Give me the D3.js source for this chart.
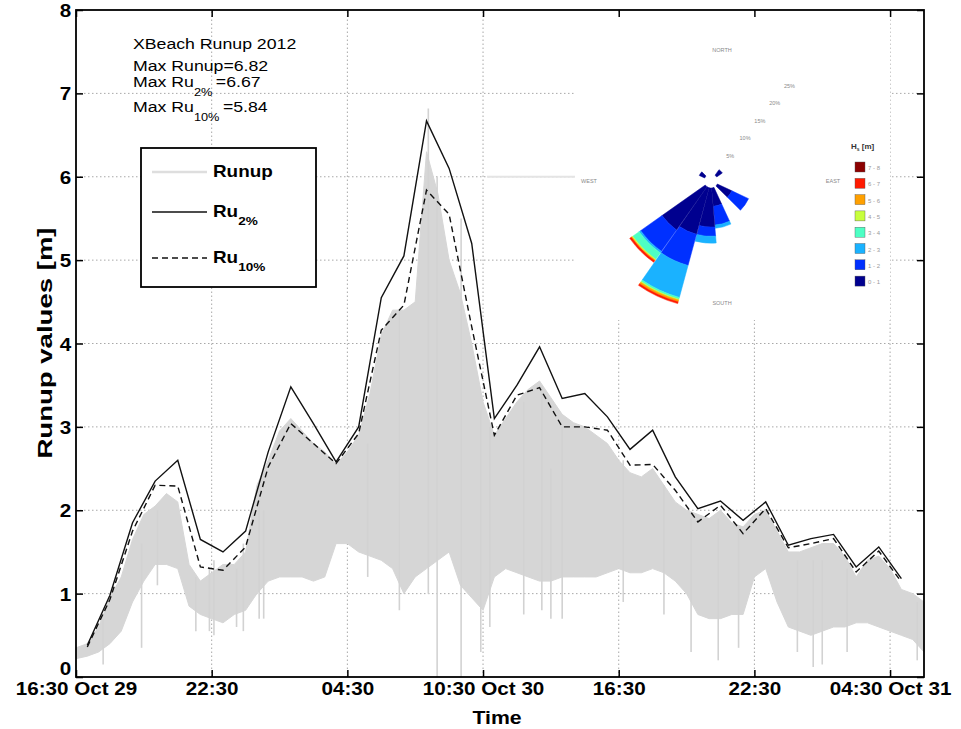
<!DOCTYPE html>
<html>
<head>
<meta charset="utf-8">
<script src="https://cdn.jsdelivr.net/npm/d3@7"></script>
<style>
  body { margin: 0; background: #fff; }
  text { font-family: "Liberation Sans", Arial, Helvetica, sans-serif; }
</style>
</head>
<body>
<svg id="chart" width="961" height="729"></svg>
<script>
// time axis
var startTime = "2012-10-29T16:30Z",
    endTime = "2012-10-31T06:00Z";
var tickTimes = ["2012-10-29T16:30Z", "2012-10-29T22:30Z", "2012-10-30T04:30Z", "2012-10-30T10:30Z",
                 "2012-10-30T16:30Z", "2012-10-30T22:30Z", "2012-10-31T04:30Z"];
var tickLabels = ["16:30 Oct 29", "22:30", "04:30", "10:30 Oct 30", "16:30", "22:30", "04:30 Oct 31"];
var yTicks = [0, 1, 2, 3, 4, 5, 6, 7, 8];

// Ru2% and Ru10%, hourly from 17:00 Oct 29
var ruStart = "2012-10-29T17:00Z";
var ru2 = [0.38, 0.98, 1.85, 2.35, 2.6, 1.65, 1.5, 1.75, 2.7, 3.48, 3.04, 2.58, 3.0, 4.55, 5.05, 6.67, 6.1, 5.2, 3.1,
           3.5, 3.96, 3.34, 3.4, 3.12, 2.73, 2.96, 2.4, 2.02, 2.11, 1.88, 2.1, 1.58, 1.66, 1.71, 1.32, 1.56, 1.18];
var ru10 = [0.36, 0.93, 1.75, 2.3, 2.29, 1.32, 1.28, 1.56, 2.52, 3.04, 2.8, 2.56, 2.92, 4.16, 4.46, 5.84, 5.55, 4.2, 2.9,
            3.38, 3.47, 3.0, 3.0, 2.96, 2.54, 2.55, 2.24, 1.86, 2.06, 1.72, 2.02, 1.55, 1.6, 1.66, 1.26, 1.51, 1.14];

// runup signal envelope, half-hourly from 16:30 Oct 29
var runupHi = [0.35, 0.4, 0.6, 0.95, 1.2, 1.65, 1.95, 2.05, 2.2, 2.1, 1.35, 1.15, 1.25, 1.35, 1.35, 1.5,
               2.3, 2.6, 2.95, 3.1, 2.95, 2.8, 2.7, 2.55, 2.7, 2.9, 3.4, 4.1, 4.4, 4.4, 4.5, 6.3,
               5.8, 5.0, 4.6, 4.0, 3.3, 2.9, 3.1, 3.3, 3.45, 3.55, 3.35, 3.15, 3.05, 3.0, 2.9, 2.8,
               2.6, 2.45, 2.4, 2.5, 2.3, 2.1, 2.0, 1.95, 1.9, 2.0, 1.85, 1.8, 1.95, 2.0, 1.75, 1.5,
               1.5, 1.55, 1.6, 1.6, 1.45, 1.2, 1.4, 1.45, 1.3, 1.05, 1.0, 0.9];
var runupLo = [0.22, 0.25, 0.3, 0.4, 0.55, 0.9, 1.15, 1.35, 1.35, 1.3, 0.85, 0.75, 0.7, 0.65, 0.75, 0.8,
               1.0, 1.15, 1.2, 1.2, 1.2, 1.15, 1.2, 1.6, 1.6, 1.5, 1.45, 1.4, 1.3, 1.0, 1.2, 1.3,
               1.4, 1.5, 1.1, 0.95, 0.8, 1.2, 1.3, 1.25, 1.2, 1.15, 1.15, 1.2, 1.2, 1.2, 1.2, 1.25,
               1.3, 1.25, 1.25, 1.3, 1.25, 1.15, 1.0, 0.75, 0.7, 0.7, 0.75, 0.75, 1.2, 1.3, 0.9, 0.6,
               0.55, 0.5, 0.55, 0.6, 0.6, 0.65, 0.65, 0.6, 0.55, 0.5, 0.45, 0.3];
// single runup excursions: hours after 16:30 Oct 29, low and high value
var spikeHours = [1.2, 2.9, 3.6, 5.3, 5.9, 6.1, 7.1, 7.4, 8.1, 8.3, 12.9, 14.3, 15.58, 15.97, 17.03, 17.9,
                  18.3, 19.8, 20.6, 21.0, 21.5, 24.2, 26.0, 27.2, 28.4, 29.3, 31.9, 32.6, 33.0, 34.1, 37.2];
var spikeLo    = [0.15, 0.35, 1.1, 0.55, 0.55, 0.5, 0.6, 0.55, 0.7, 0.7, 1.2, 0.8, 1.0, 0.0, 0.0, 0.3,
                  0.6, 0.75, 0.8, 0.7, 0.7, 0.9, 0.75, 0.3, 0.2, 0.35, 0.3, 0.12, 0.15, 0.3, 0.2];
var spikeHi    = [0.7, 1.6, 2.0, 1.2, 1.3, 1.4, 1.3, 1.6, 2.3, 2.0, 2.8, 4.4, 6.82, 6.0, 5.5, 3.2,
                  3.0, 3.3, 3.5, 2.5, 3.0, 2.6, 2.3, 1.9, 1.9, 1.8, 1.4, 1.4, 1.4, 1.3, 0.9];

// wave rose (bearing of petal, frequency % per Hs class)
var roseDirs = [305, 45, 125, 165, 185, 205, 225];
var hsBins = ["0 - 1", "1 - 2", "2 - 3", "3 - 4", "4 - 5", "5 - 6", "6 - 7", "7 - 8"];
var hsColors = ["#00008f", "#0030ff", "#1ab2ff", "#4dffc4", "#c8ff3c", "#ffa000", "#ff1a00", "#8c0000"];
var roseFreq = [
  [1.3, 0, 0, 0, 0, 0, 0, 0],
  [1.5, 0, 0, 0, 0, 0, 0, 0],
  [3.5, 4.0, 0, 0, 0, 0, 0, 0],
  [4.0, 4.1, 0.7, 0, 0, 0, 0, 0],
  [8.5, 2.0, 1.5, 0, 0, 0, 0, 0],
  [10.5, 7.0, 7.2, 0.4, 0.2, 0.4, 0.4, 0],
  [11.5, 5.7, 0.4, 1.7, 0.2, 0.2, 0.4, 0]
];
var roseRings = [5, 10, 15, 20, 25];
var compass = ["NORTH", "EAST", "SOUTH", "WEST"];

var svg = d3.select("#chart"),
    sx = 1.18; // the figure text is a bit wide

var parse = d3.utcParse("%Y-%m-%dT%H:%MZ");
var t0 = parse(startTime);

var x = d3.scaleUtc()
  .domain([t0, parse(endTime)])
  .range([76, 924]);
var y = d3.scaleLinear()
  .domain([0, 8])
  .range([677, 10]);

function hoursAfter(base, h) { return new Date(base.getTime() + h * 3600e3); }

/* grid */
svg.append("g").selectAll("line")
  .data(tickTimes.slice(1))
  .enter().append("line")
    .attr("x1", function(d) { return x(parse(d)); })
    .attr("x2", function(d) { return x(parse(d)); })
    .attr("y1", y(0)).attr("y2", y(8))
    .attr("stroke", "#a8a8a8").attr("stroke-dasharray", "1.5,2.5");
svg.append("g").selectAll("line")
  .data(yTicks.slice(1, -1))
  .enter().append("line")
    .attr("y1", function(d) { return y(d); })
    .attr("y2", function(d) { return y(d); })
    .attr("x1", x.range()[0]).attr("x2", x.range()[1])
    .attr("stroke", "#a8a8a8").attr("stroke-dasharray", "1.5,2.5");

/* wave rose inset (white background over the grid) */
var rose = svg.append("g");
rose.append("rect")
  .attr("x", 575).attr("y", 12).attr("width", 315).attr("height", 308)
  .attr("fill", "#fff");
rose.append("line")
  .attr("x1", 487).attr("x2", 575).attr("y1", y(6)).attr("y2", y(6))
  .attr("stroke", "#e4e4e4").attr("stroke-width", 2);

var rc = [711, 181];
var rr = d3.scaleLinear().domain([0, 25]).range([7, 122]);
var arc = d3.arc();
var rg = rose.append("g").attr("transform", "translate(" + rc + ")");

roseDirs.forEach(function(dir, i) {
  var cum = 0;
  roseFreq[i].forEach(function(f, k) {
    if (!f) return;
    rg.append("path")
      .attr("d", arc({
        innerRadius: rr(cum), outerRadius: rr(cum + f),
        startAngle: (dir - 9.8) * Math.PI / 180, endAngle: (dir + 9.8) * Math.PI / 180
      }))
      .attr("fill", hsColors[k])
      .attr("stroke", hsColors[k]).attr("stroke-width", 0.5);
    cum += f;
  });
});

// ring labels along 40 degrees
rg.selectAll(".ringlab")
  .data(roseRings)
  .enter().append("text")
    .attr("x", function(d) { return rr(d) * Math.sin(40 * Math.PI / 180); })
    .attr("y", function(d) { return -rr(d) * Math.cos(40 * Math.PI / 180); })
    .attr("font-size", 5.5).attr("fill", "#8a8a8a")
    .attr("text-anchor", "middle")
    .text(function(d) { return d + "%"; });

rg.selectAll(".compass")
  .data(compass)
  .enter().append("text")
    .attr("x", function(d, i) { return Math.sin(i * Math.PI / 2) * rr(25) + (i % 2 ? 0 : 11); })
    .attr("y", function(d, i) { return -Math.cos(i * Math.PI / 2) * (i === 0 ? 131 : rr(25)) + 2; })
    .attr("font-size", 5.5).attr("fill", "#8a8a8a")
    .attr("text-anchor", "middle")
    .text(function(d) { return d; });

// Hs legend
var hsLeg = rose.append("g").attr("transform", "translate(855,162)");
hsLeg.append("text")
  .attr("x", -4).attr("y", -13)
  .attr("font-size", 8).attr("font-weight", "bold").attr("fill", "#333")
  .text("H").append("tspan").attr("font-size", 5).attr("dy", 2).text("s")
  .select(function() { return this.parentNode; })
  .append("tspan").attr("dy", -2).text(" [m]");
hsLeg.selectAll("g")
  .data(hsBins.slice().reverse())
  .enter().append("g")
    .attr("transform", function(d, i) { return "translate(0," + i * 16.3 + ")"; })
    .each(function(d, i) {
      var g = d3.select(this);
      g.append("rect").attr("width", 10).attr("height", 10)
        .attr("fill", hsColors[hsColors.length - 1 - i])
        .attr("stroke", "#555").attr("stroke-width", 0.4);
      g.append("text").attr("x", 13).attr("y", 8)
        .attr("font-size", 6).attr("fill", "#9a9a9a").text(d);
    });

/* runup signal */
var runupTimes = runupHi.map(function(d, i) { return hoursAfter(t0, i * 0.5); });
svg.append("path")
  .datum(runupHi)
  .attr("fill", "#d6d6d6")
  .attr("stroke", "#d6d6d6").attr("stroke-width", 1)
  .attr("d", d3.area()
    .x(function(d, i) { return x(runupTimes[i]); })
    .y0(function(d, i) { return y(runupLo[i]); })
    .y1(function(d) { return y(d); }));

svg.append("g").selectAll("line")
  .data(spikeHours)
  .enter().append("line")
    .attr("x1", function(d) { return x(hoursAfter(t0, d)); })
    .attr("x2", function(d) { return x(hoursAfter(t0, d)); })
    .attr("y1", function(d, i) { return y(spikeLo[i]); })
    .attr("y2", function(d, i) { return y(spikeHi[i]); })
    .attr("stroke", "#d2d2d2").attr("stroke-width", 1.6);

/* Ru2% and Ru10% */
var ruT0 = parse(ruStart);
var ruLine = d3.line()
  .x(function(d, i) { return x(hoursAfter(ruT0, i)); })
  .y(function(d) { return y(d); });

svg.append("path").datum(ru2)
  .attr("fill", "none").attr("stroke", "#111").attr("stroke-width", 1.4)
  .attr("d", ruLine);
svg.append("path").datum(ru10)
  .attr("fill", "none").attr("stroke", "#111").attr("stroke-width", 1.4)
  .attr("stroke-dasharray", "6,4")
  .attr("d", ruLine);

/* axes */
var xTickDates = tickTimes.map(parse);
svg.append("g")
  .attr("transform", "translate(0," + y(0) + ")")
  .call(d3.axisBottom(x).tickValues(xTickDates).tickSize(-7).tickPadding(6)
    .tickFormat(function(d, i) { return tickLabels[i]; }))
  .call(function(g) {
    g.select(".domain").remove();
    g.selectAll("line").attr("stroke-width", 1.5);
    g.selectAll("text").attr("font-size", 17.5).attr("font-weight", "bold").attr("fill", "#000")
      .attr("font-family", "Liberation Sans, Arial, sans-serif")
      .attr("transform", "scale(" + sx + ",1)");
  });
svg.append("g")
  .attr("transform", "translate(0," + y(8) + ")")
  .call(d3.axisTop(x).tickValues(xTickDates).tickSize(-7).tickFormat(""))
  .call(function(g) { g.select(".domain").remove(); g.selectAll("line").attr("stroke-width", 1.5); });

svg.append("g")
  .attr("transform", "translate(" + x.range()[0] + ",0)")
  .call(d3.axisLeft(y).tickValues(yTicks).tickSize(-7).tickPadding(4).tickFormat(d3.format("d")))
  .call(function(g) {
    g.select(".domain").remove();
    g.selectAll("line").attr("stroke-width", 1.5);
    g.selectAll("text").attr("font-size", 17.5).attr("font-weight", "bold").attr("fill", "#000")
      .attr("font-family", "Liberation Sans, Arial, sans-serif")
      .attr("transform", "scale(" + sx + ",1)")
      .attr("y", function(d) { return d === 0 ? -8 : 1; });
  });
svg.append("g")
  .attr("transform", "translate(" + x.range()[1] + ",0)")
  .call(d3.axisRight(y).tickValues(yTicks).tickSize(-7).tickFormat(""))
  .call(function(g) { g.select(".domain").remove(); g.selectAll("line").attr("stroke-width", 1.5); });

svg.append("rect")
  .attr("x", x.range()[0]).attr("y", y(8))
  .attr("width", x.range()[1] - x.range()[0]).attr("height", y(0) - y(8))
  .attr("fill", "none").attr("stroke", "#000").attr("stroke-width", 1.8);

svg.append("text")
  .attr("transform", "translate(497,724) scale(" + sx + ",1)")
  .attr("text-anchor", "middle").attr("font-size", 18).attr("font-weight", "bold")
  .text("Time");
svg.append("text")
  .attr("transform", "translate(52,343) rotate(-90) scale(1.45,1.05)")
  .attr("text-anchor", "middle").attr("font-size", 19).attr("font-weight", "bold")
  .text("Runup values [m]");

/* annotation */
function label(x0, y0, parts, size) {
  var t = svg.append("text")
    .attr("transform", "translate(" + x0 + "," + y0 + ") scale(" + sx + ",1)")
    .attr("font-size", size);
  parts.forEach(function(p) {
    t.append("tspan").attr("font-size", p.sub ? size * 0.72 : size)
      .attr("dy", p.dy || 0).attr("dx", p.dx || 0).text(p.s);
  });
  return t;
}
label(133, 49, [{s: "XBeach Runup 2012"}], 15);
label(133, 71, [{s: "Max Runup=6.82"}], 15);
label(133, 87, [{s: "Max Ru"}, {s: "2%", sub: 1, dy: 9}, {s: "=6.67", dy: -9, dx: 3}], 15);
label(133, 112, [{s: "Max Ru"}, {s: "10%", sub: 1, dy: 9}, {s: "=5.84", dy: -9, dx: 3}], 15);

/* legend */
var leg = svg.append("g");
leg.append("rect")
  .attr("x", 141).attr("y", 148).attr("width", 175).attr("height", 139)
  .attr("fill", "#fff").attr("stroke", "#000").attr("stroke-width", 1.8);
var legItems = [
  {name: "Runup", color: "#dedede", dash: null, sub: null},
  {name: "Ru", color: "#111", dash: null, sub: "2%"},
  {name: "Ru", color: "#111", dash: "6,4", sub: "10%"}
];
var legY = [172, 212, 258];
legItems.forEach(function(it, i) {
  leg.append("line")
    .attr("x1", 152).attr("x2", 207).attr("y1", legY[i]).attr("y2", legY[i])
    .attr("stroke", it.color).attr("stroke-width", i ? 1.4 : 2.5)
    .attr("stroke-dasharray", it.dash);
  var parts = [{s: it.name}];
  if (it.sub) parts.push({s: it.sub, sub: 1, dy: 8});
  label(213, legY[i] + 5, parts, 16).attr("font-weight", "bold");
});
</script>
</body>
</html>
